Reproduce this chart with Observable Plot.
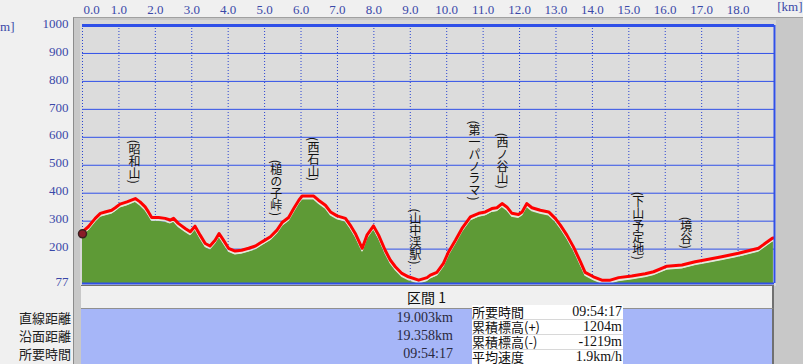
<!DOCTYPE html>
<html><head><meta charset="utf-8">
<script src="https://cdn.jsdelivr.net/npm/d3@7"></script>
<script src="https://cdn.jsdelivr.net/npm/@observablehq/plot@0.6"></script>
<style>
html,body{margin:0;padding:0;background:#f0f0f0;}
#wrap{position:relative;width:803px;height:364px;overflow:hidden;background:#f0f0f0;}
.abs{position:absolute;}
#chart{position:absolute;left:0;top:0;z-index:1;}
.serif{font-family:"Liberation Serif",serif;}
.jp{font-family:"Noto Sans CJK JP",sans-serif;}
text.vert{writing-mode:vertical-rl;}
</style></head>
<body><div id="wrap">
<div class="abs" style="left:73px;top:17px;width:730px;height:347px;background:#c8c8c8;border-top:1px solid #a0a0a0;border-left:1px solid #8c8c8c;box-sizing:border-box;"></div>
<div class="abs" style="left:80px;top:20px;width:696px;height:266px;background:#d8d8d8;"></div>
<div id="chart"></div>
<div id="panel"></div>
</div>
<script>
// ---- profile data (km, elevation m) ----
const km = [0.00,0.16,0.35,0.49,0.62,0.80,0.90,1.03,1.22,1.45,1.58,1.72,1.81,1.90,2.09,2.27,2.41,2.50,2.63,2.82,2.96,3.09,3.23,3.37,3.50,3.64,3.75,3.87,4.01,4.19,4.37,4.56,4.75,4.93,5.16,5.34,5.48,5.66,5.80,5.94,6.03,6.35,6.48,6.67,6.81,6.99,7.22,7.35,7.49,7.68,7.81,7.99,8.13,8.31,8.45,8.59,8.77,8.95,9.23,9.46,9.55,9.73,9.91,10.05,10.24,10.42,10.65,10.88,11.06,11.24,11.38,11.52,11.65,11.79,11.97,12.07,12.20,12.34,12.57,12.80,12.98,13.12,13.30,13.48,13.67,13.80,14.03,14.26,14.49,14.72,15.08,15.45,15.68,16.05,16.46,16.82,17.19,17.55,18.01,18.56,18.93,18.97];
const elev = [262,280,310,328,333,339,348,361,369,381,369,351,333,313,313,310,304,310,292,274,262,282,250,220,211,232,256,232,203,193,196,203,211,226,244,268,295,313,345,375,390,390,375,357,333,319,310,286,256,203,250,283,250,196,161,137,113,101,89,98,107,117,149,190,232,274,315,328,333,345,348,363,351,328,324,333,363,348,339,333,310,286,250,208,155,117,101,89,89,98,104,112,119,139,143,155,164,173,185,203,238,240];

// ---- place labels ----
const peakNames = ["(昭和山)","(槌の子峠)","(西石山)","(山中渓駅)","(第一パノラマ)","(西ノ谷山)","(下山予定地)","(境谷)"];
const peakKm = [1.43,5.32,6.34,9.14,10.76,11.53,15.26,16.58];
const peakElev = [380,265,390,91,320,362,108,147];

// ---- ticks ----
const xTicks = [0,1,2,3,4,5,6,7,8,9,10,11,12,13,14,15,16,17,18];
const yTicks = [77,200,300,400,500,600,700,800,900,1000];
const gridY = [200,300,400,500,600,700,800,900];

// ---- summary texts ----
const leftNames = ["直線距離","沿面距離","所要時間"];
const leftValues = ["19.003km","19.358km","09:54:17"];
const tableNames = ["所要時間","累積標高(+)","累積標高(-)","平均速度"];
const tableValues = ["09:54:17","1204m","-1219m","1.9km/h"];
const sectionTitle = "区間 1";

const profile = km.map((k,i)=>({km:k, elev:elev[i]}));
const peaks = peakNames.map((n,i)=>({name:n, km:peakKm[i], elev:peakElev[i]}));

const blue = "#3050e8";
const tickColor = "#3a48a8";

const chart = Plot.plot({
  width: 803, height: 290,
  marginLeft: 82, marginRight: 29, marginTop: 25, marginBottom: 7,
  style: {background: "transparent", fontFamily: "'Liberation Serif', serif", fontSize: "13px", overflow: "visible"},
  x: {domain: [0, 19], axis: null, label: null},
  y: {domain: [77, 1000], axis: null, label: null},
  marks: [
    Plot.frame({fill: "#dcdcdc", stroke: null}),
    Plot.ruleX(xTicks, {stroke: "#2a44d0", strokeDasharray: "1,2"}),
    Plot.ruleY(gridY, {stroke: blue}),
    Plot.areaY(profile, {x: "km", y1: d => 77, y2: "elev", fill: "#5e9a36", dy: 4, clip: true}),
    Plot.lineY(profile, {x: "km", y: "elev", stroke: "#e4ecd8", strokeWidth: 1.2, dy: 2.5, clip: true}),
    Plot.lineY(profile, {x: "km", y: "elev", stroke: "#ff0000", strokeWidth: 3, clip: true}),
    Plot.ruleY([1000], {stroke: blue, strokeWidth: 3}),
    Plot.ruleY([77], {stroke: blue, strokeWidth: 2}),
    Plot.ruleX([19], {stroke: blue, strokeWidth: 2}),
    Plot.dot([profile[0]], {x: "km", y: "elev", r: 4, fill: "#8a1c28", stroke: "#3a2020", dy: 2}),
    Plot.text(peaks, {x: "km", y: "elev", text: "name", textAnchor: "end", lineAnchor: "bottom", dy: -15,
      fontSize: 12, fill: "#111", fontFamily: "'Noto Sans CJK JP', sans-serif"}),
    Plot.axisX(xTicks.slice(1), {anchor: "top", label: null, tickSize: 0, tickPadding: 12, tickFormat: d => d.toFixed(1), fill: tickColor, fontSize: 13}),
    Plot.axisX(xTicks.slice(0,1), {anchor: "top", label: null, tickSize: 0, tickPadding: 12, tickFormat: d => d.toFixed(1), fill: tickColor, fontSize: 13, textAnchor: "start", dx: 1}),
    Plot.axisY(yTicks, {anchor: "left", label: null, tickSize: 0, tickPadding: 14, dy: -2, tickFormat: d => String(d), fill: tickColor, fontSize: 13}),
    Plot.text(["[km]"], {frameAnchor: "top-right", dx: 28, dy: -24, textAnchor: "end", lineAnchor: "top", fill: tickColor, fontSize: 13}),
    Plot.text(["[m]"], {frameAnchor: "top-left", dx: -68, dy: 1, textAnchor: "end", lineAnchor: "middle", fill: tickColor, fontSize: 13})
  ]
});
d3.select(chart).selectAll("text")
  .filter(function(){ return peakNames.includes(this.textContent); })
  .attr("class", "vert")
  .attr("writing-mode", "vertical-rl")
  .style("writing-mode", "vertical-rl");
document.getElementById("chart").appendChild(chart);

// ---- bottom panel ----
const panel = d3.select("#panel");
panel.append("div").attr("class","abs jp")
  .style("left","81px").style("top","285px").style("width","693px").style("height","24px")
  .style("box-sizing","border-box").style("background","#f0f0f0")
  .style("border-top","1px solid #707070").style("border-bottom","1px solid #909090").style("border-right","2px solid #707070")
  .style("text-align","center").style("font-size","14px").style("line-height","22px").style("color","#111")
  .style("z-index","2").text(sectionTitle);
panel.append("div").attr("class","abs")
  .style("left","81px").style("top","309px").style("width","693px").style("height","55px")
  .style("background","#a6b6f8").style("border-right","2px solid #707070").style("box-sizing","border-box").style("z-index","2");
leftNames.forEach((n,i)=>{
  panel.append("div").attr("class","abs jp")
    .style("right",(803-71)+"px").style("top",(309+i*18)+"px").style("font-size","13px").style("line-height","18px")
    .style("color","#222").style("white-space","nowrap").style("z-index","3").text(n);
  panel.append("div").attr("class","abs serif")
    .style("right",(803-453)+"px").style("top",(309+i*18)+"px").style("font-size","14px").style("line-height","18px")
    .style("color","#2a2a40").style("white-space","nowrap").style("z-index","3").text(leftValues[i]);
});
const tbl = panel.append("div").attr("class","abs")
  .style("left","472px").style("top","305px").style("width","151px").style("height","59px")
  .style("background","#ffffff").style("z-index","3").style("overflow","hidden");
tableNames.forEach((n,i)=>{
  const row = tbl.append("div").style("position","absolute").style("left","0").style("top",(i*15)+"px")
    .style("width","151px").style("height","15px").style("border-bottom","1px solid #d8d8d8").style("box-sizing","border-box");
  row.append("div").attr("class","jp").style("position","absolute").style("left","0").style("top","0")
    .style("font-size","13px").style("line-height","14px").style("color","#111").style("white-space","nowrap").text(n);
  row.append("div").attr("class","serif").style("position","absolute").style("right","1px").style("top","0")
    .style("font-size","14px").style("line-height","14px").style("color","#111").style("white-space","nowrap").text(tableValues[i]);
});
</script>
</body></html>
